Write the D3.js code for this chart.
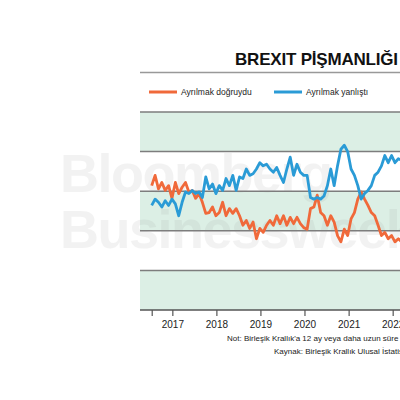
<!DOCTYPE html>
<html>
<head>
<meta charset="utf-8">
<script src="https://cdn.jsdelivr.net/npm/d3@7"></script>
<style>
  body { margin: 0; background: #fff; }
  svg { display: block; font-family: 'Liberation Sans', Arial, sans-serif; }
</style>
</head>
<body>
<script>
const width = 400
const height = 400

// roughly every 4 weeks
const dates = [
  '2016-07-14', '2016-08-11', '2016-09-08', '2016-10-06', '2016-11-03', '2016-12-01', '2016-12-29',
  '2017-01-26', '2017-02-23', '2017-03-23', '2017-04-20', '2017-05-18', '2017-06-15', '2017-07-13',
  '2017-08-10', '2017-09-07', '2017-10-05', '2017-11-02', '2017-11-30', '2017-12-28',
  '2018-01-25', '2018-02-22', '2018-03-22', '2018-04-19', '2018-05-17', '2018-06-14', '2018-07-12',
  '2018-08-09', '2018-09-06', '2018-10-04', '2018-11-01', '2018-11-29', '2018-12-27',
  '2019-01-24', '2019-02-21', '2019-03-21', '2019-04-18', '2019-05-16', '2019-06-13', '2019-07-11',
  '2019-08-08', '2019-09-05', '2019-10-03', '2019-10-31', '2019-11-28', '2019-12-26',
  '2020-01-23', '2020-02-20', '2020-03-19', '2020-04-16', '2020-05-14', '2020-06-11', '2020-07-09',
  '2020-08-06', '2020-09-03', '2020-10-01', '2020-10-29', '2020-11-26', '2020-12-24',
  '2021-01-21', '2021-02-18', '2021-03-18', '2021-04-15', '2021-05-13', '2021-06-10', '2021-07-08',
  '2021-08-05', '2021-09-02', '2021-09-30', '2021-10-28', '2021-11-25', '2021-12-23',
  '2022-01-20', '2022-02-17', '2022-03-17'
]

// Ayrılmak doğruydu (right to leave)
const rightValues = [
  45.7, 47.0, 45.3, 46.1, 45.1, 45.7, 44.1, 46.1, 44.7, 45.5, 46.1, 44.9, 45.1, 44.1, 44.7, 43.6,
  42.2, 42.3, 43.0, 41.9, 42.3, 43.6, 41.9, 42.8, 42.2, 42.8, 41.9, 40.7, 41.3, 40.3, 41.1, 39.0,
  40.3, 39.8, 40.7,
  41.3, 40.7, 41.9, 40.9, 41.9, 40.7, 41.7, 40.9, 41.7, 40.9, 40.4, 40.2, 42.8, 43.0, 44.5, 42.3,
  41.9, 40.7, 41.9, 41.1, 39.4, 38.6, 40.2, 39.4, 41.5, 42.3, 44.0, 44.9, 44.0, 43.2, 42.3, 41.9,
  40.7, 39.4, 39.8, 39.0, 39.4, 38.6, 39.0, 38.6
]

// Ayrılmak yanlıştı (wrong to leave)
const wrongValues = [
  43.2, 44.0, 43.6, 43.0, 43.8, 43.2, 44.0, 43.4, 41.9, 43.6, 44.9, 44.7, 45.1, 44.7, 44.9, 44.2,
  46.8, 45.3, 45.9, 44.7, 45.7, 45.1, 46.6, 45.7, 47.0, 45.1, 46.8, 46.6, 47.8, 47.0, 47.2, 47.8,
  48.6, 48.2, 48.4,
  47.8, 47.4, 48.0, 47.0, 46.1, 47.8, 49.3, 47.0, 48.4, 47.4, 47.0, 47.0, 44.2, 44.0, 44.2, 44.0,
  44.4, 45.7, 47.8, 45.7, 48.2, 50.3, 50.8, 50.0, 47.8, 47.0, 45.7, 44.0, 44.7, 45.1, 45.7, 47.0,
  47.4, 48.2, 49.5, 48.6, 49.5, 48.6, 49.1, 48.9
]

const yTicks = [30, 35, 40, 45, 50, 55]
const bands = [[30, 35], [40, 45], [50, 55]]
const yearTicks = ['2017-01-01', '2018-01-01', '2019-01-01', '2020-01-01', '2021-01-01', '2022-01-01']
const seriesNames = ['Ayrılmak doğruydu', 'Ayrılmak yanlıştı']
const colors = ['#f0693a', '#2a9bd6']

const parse = d3.timeParse('%Y-%m-%d')

const plotLeft = 140
const plotRight = 422
const plotTop = 112
const plotBottom = 310

const x = d3.scaleTime()
  .domain([parse('2016-04-08'), parse('2022-09-01')])
  .range([plotLeft, plotRight])

const y = d3.scaleLinear()
  .domain([30, 55])
  .range([plotBottom, plotTop])

const svg = d3.select('body').append('svg')
  .attr('width', width)
  .attr('height', height)

// title
svg.append('text')
  .attr('x', 235)
  .attr('y', 65)
  .attr('font-size', 17)
  .attr('font-weight', 'bold')
  .attr('letter-spacing', -0.2)
  .attr('fill', '#111')
  .text('BREXIT PİŞMANLIĞI')

svg.append('line')
  .attr('x1', plotLeft).attr('x2', width)
  .attr('y1', 72.5).attr('y2', 72.5)
  .attr('stroke', '#999')
  .attr('stroke-width', 1.5)

// legend
const legend = svg.append('g')
  .selectAll('g')
  .data(seriesNames)
  .enter()
  .append('g')
  .attr('transform', (d, i) => `translate(${i === 0 ? 149 : 274},92)`)

legend.append('line')
  .attr('x1', 0).attr('x2', 28)
  .attr('stroke', (d, i) => colors[i])
  .attr('stroke-width', 3)

legend.append('text')
  .attr('x', 32)
  .attr('y', 3)
  .attr('font-size', 8.5)
  .attr('fill', '#222')
  .text(d => d)

// bands and grid
svg.append('g')
  .selectAll('rect')
  .data(bands)
  .enter()
  .append('rect')
  .attr('x', plotLeft)
  .attr('width', width - plotLeft)
  .attr('y', d => y(d[1]))
  .attr('height', d => y(d[0]) - y(d[1]))
  .attr('fill', '#dcefe5')

svg.append('g')
  .selectAll('line')
  .data(yTicks.slice(1))
  .enter()
  .append('line')
  .attr('x1', plotLeft).attr('x2', width)
  .attr('y1', d => y(d)).attr('y2', d => y(d))
  .attr('stroke', '#7d7d7d')
  .attr('stroke-width', 1.5)

// watermark
const mark = svg.append('g')
  .attr('fill', '#888')
  .attr('opacity', 0.1)
  .attr('font-weight', 'bold')
  .attr('font-size', 54)
  .attr('letter-spacing', -1.5)

mark.append('text').attr('x', 60).attr('y', 192).text('Bloomberg')
mark.append('text').attr('x', 60).attr('y', 248).text('Businessweek')

// x axis
const xAxis = d3.axisBottom(x)
  .tickValues([parse(dates[0])].concat(yearTicks.map(parse)))
  .tickFormat((d, i) => i === 0 ? '' : d3.timeFormat('%Y')(d))
  .tickSize(6)
  .tickPadding(5)

const gx = svg.append('g')
  .attr('transform', `translate(0,${plotBottom})`)
  .call(xAxis)

gx.select('.domain')
  .attr('d', `M${plotLeft},0H${width}`)
  .attr('stroke', '#555')
  .attr('stroke-width', 1.5)
gx.selectAll('.tick line').attr('stroke', '#555').attr('stroke-width', 1.2)
gx.selectAll('.tick text')
  .attr('font-size', 10)
  .attr('font-family', "'Liberation Sans', Arial, sans-serif")
  .attr('fill', '#222')

// lines
const line = d3.line()
  .x((d, i) => x(parse(dates[i])))
  .y(d => y(d))

svg.append('g')
  .selectAll('path')
  .data([rightValues, wrongValues])
  .enter()
  .append('path')
  .attr('d', d => line(d))
  .attr('fill', 'none')
  .attr('stroke', (d, i) => colors[i])
  .attr('stroke-width', 2.8)
  .attr('stroke-linejoin', 'round')

// notes
svg.append('text')
  .attr('x', 227)
  .attr('y', 341)
  .attr('font-size', 8)
  .attr('fill', '#222')
  .text('Not: Birleşik Krallık\'a 12 ay veya daha uzun süre')

svg.append('text')
  .attr('x', 274)
  .attr('y', 354)
  .attr('font-size', 8)
  .attr('fill', '#222')
  .text('Kaynak: Birleşik Krallık Ulusal İstatistik Ofisi')
</script>
</body>
</html>
